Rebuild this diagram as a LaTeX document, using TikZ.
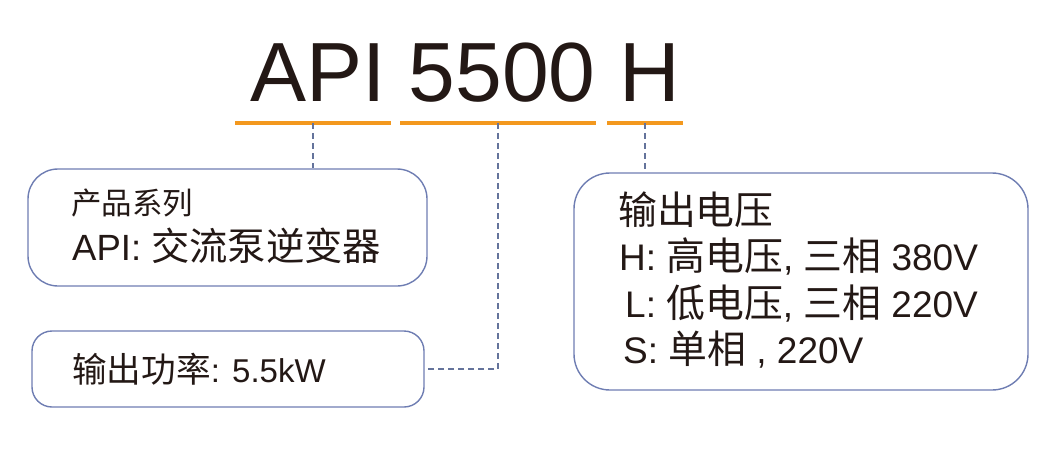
\documentclass[tikz,border=0pt]{standalone}
\usepackage{fontspec}
\setmainfont{Liberation Sans}
\newfontfamily\cjk[Scale=1.05]{Noto Sans CJK SC}
\usepackage{xcolor}
\definecolor{CodeOrange}{RGB}{243,152,30}
\definecolor{FrameBlue}{RGB}{110,125,178}
\definecolor{LeaderGray}{RGB}{100,115,155}
\definecolor{InkBlack}{RGB}{35,24,21}

\begin{document}
\begin{tikzpicture}[x=1pt, y=-1pt,
    infobox/.style={draw=FrameBlue, line width=1.4pt, inner sep=0pt},
    underline/.style={CodeOrange, line width=3.6pt},
    leader/.style={LeaderGray, line width=1.2pt, dash pattern=on 6pt off 4pt},
    txt/.style={anchor=base west, inner sep=0pt, text=InkBlack}]
    \useasboundingbox (0,0) rectangle (1062,468);
    % Model code
    \node[txt, font=\fontsize{84}{84}\selectfont] (code) at (250,102) {API 5500 H};
    % Orange underlines
    \foreach \a/\b in {235/391, 400/596, 607/683} {
        \draw[underline] (\a,123) -- (\b,123);
    }
    \coordinate (seriesmark) at (313,123);
    \coordinate (powermark) at (498,123);
    \coordinate (voltmark) at (645,123);
    % Boxes
    \node[infobox, rounded corners=30pt, minimum width=399pt, minimum height=117pt] (seriesbox) at (227.5,227.5) {};
    \node[infobox, rounded corners=20pt, minimum width=392pt, minimum height=76pt] (powerbox) at (228,369) {};
    \node[infobox, rounded corners=36pt, minimum width=454pt, minimum height=217pt] (voltbox) at (801,281.5) {};
    % Dashed leaders
    \draw[leader] (seriesmark) -- (seriesmark |- seriesbox.north);
    \draw[leader] (powermark) |- (powerbox.east);
    \draw[leader] (voltmark) -- (voltmark |- voltbox.north);
    % Series
    \node[txt, font=\fontsize{29}{29}\selectfont] (serieshead) at (71,214) {\cjk 产品系列};
    \node[txt, font=\fontsize{36.5}{36.5}\selectfont] (seriesname) at (72,260) {API: {\cjk 交流泵逆变器}};
    % Power
    \node[txt, font=\fontsize{33}{33}\selectfont] (powertext) at (72,382) {{\cjk 输出功率}: 5.5kW};
    % Voltage
    \node[txt, font=\fontsize{37}{37}\selectfont] (volthead) at (618,224) {\cjk 输出电压};
    \node[txt, font=\fontsize{37}{37}\selectfont] (volth) at (619,270) {H: {\cjk 高电压}, {\cjk 三相} 380V};
    \node[txt, font=\fontsize{37}{37}\selectfont] (voltl) at (625,317) {L: {\cjk 低电压}, {\cjk 三相} 220V};
    \node[txt, font=\fontsize{37}{37}\selectfont] (volts) at (623,363) {S: {\cjk 单相} , 220V};
\end{tikzpicture}
\end{document}
